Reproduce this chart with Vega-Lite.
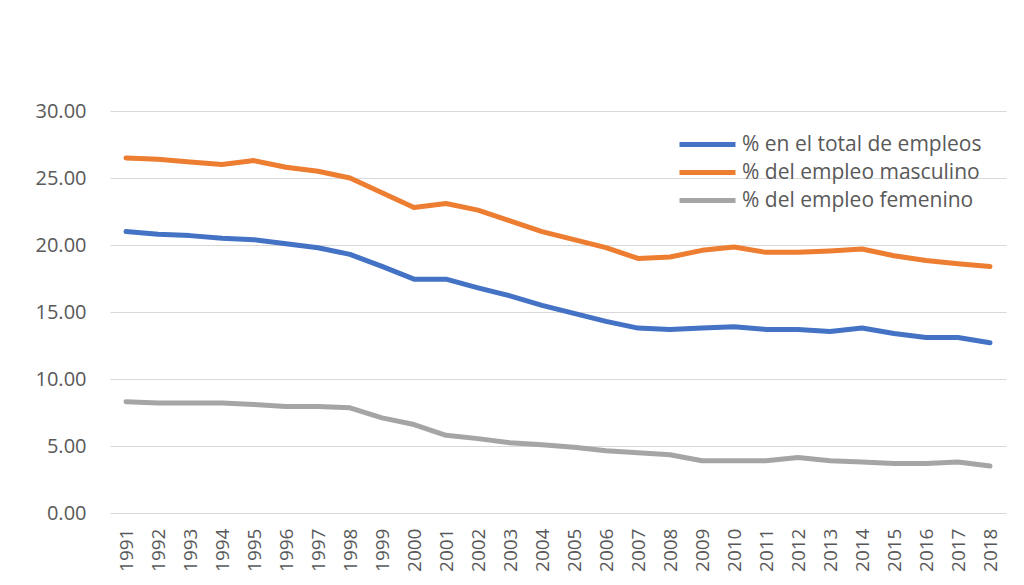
{
  "$schema": "https://vega.github.io/schema/vega-lite/v6.json",
  "autosize": "none",
  "width": 896,
  "height": 402,
  "padding": {"left": 110, "top": 111, "right": 18, "bottom": 72},
  "background": "white",
  "config": {
    "font": "Open Sans",
    "view": {"stroke": null},
    "axis": {"labelColor": "#595959", "labelFont": "Open Sans", "gridColor": "#D9D9D9", "gridWidth": 1}
  },
  "datasets": {
    "empleo": [
      {"anio": "1991", "total": 21.0, "masc": 26.5, "fem": 8.3},
      {"anio": "1992", "total": 20.8, "masc": 26.4, "fem": 8.2},
      {"anio": "1993", "total": 20.7, "masc": 26.2, "fem": 8.2},
      {"anio": "1994", "total": 20.5, "masc": 26.0, "fem": 8.2},
      {"anio": "1995", "total": 20.4, "masc": 26.3, "fem": 8.1},
      {"anio": "1996", "total": 20.1, "masc": 25.8, "fem": 7.95},
      {"anio": "1997", "total": 19.8, "masc": 25.5, "fem": 7.95},
      {"anio": "1998", "total": 19.3, "masc": 25.0, "fem": 7.85},
      {"anio": "1999", "total": 18.4, "masc": 23.9, "fem": 7.1},
      {"anio": "2000", "total": 17.45, "masc": 22.8, "fem": 6.6},
      {"anio": "2001", "total": 17.45, "masc": 23.1, "fem": 5.8},
      {"anio": "2002", "total": 16.8, "masc": 22.6, "fem": 5.55},
      {"anio": "2003", "total": 16.2, "masc": 21.8, "fem": 5.25},
      {"anio": "2004", "total": 15.5, "masc": 21.0, "fem": 5.1},
      {"anio": "2005", "total": 14.9, "masc": 20.4, "fem": 4.9},
      {"anio": "2006", "total": 14.3, "masc": 19.8, "fem": 4.65},
      {"anio": "2007", "total": 13.8, "masc": 19.0, "fem": 4.5},
      {"anio": "2008", "total": 13.7, "masc": 19.1, "fem": 4.35},
      {"anio": "2009", "total": 13.8, "masc": 19.6, "fem": 3.9},
      {"anio": "2010", "total": 13.9, "masc": 19.85, "fem": 3.9},
      {"anio": "2011", "total": 13.7, "masc": 19.45, "fem": 3.9},
      {"anio": "2012", "total": 13.7, "masc": 19.45, "fem": 4.15},
      {"anio": "2013", "total": 13.55, "masc": 19.55, "fem": 3.9},
      {"anio": "2014", "total": 13.8, "masc": 19.7, "fem": 3.8},
      {"anio": "2015", "total": 13.4, "masc": 19.2, "fem": 3.7},
      {"anio": "2016", "total": 13.1, "masc": 18.85, "fem": 3.7},
      {"anio": "2017", "total": 13.1, "masc": 18.6, "fem": 3.8},
      {"anio": "2018", "total": 12.7, "masc": 18.4, "fem": 3.5}
    ]
  },
  "data": {"name": "empleo"},
  "transform": [
    {"fold": ["total", "masc", "fem"], "as": ["clave", "valor"]},
    {"lookup": "clave", "from": {"data": {"values": [
      {"clave": "total", "serie": "% en el total de empleos"},
      {"clave": "masc", "serie": "% del empleo masculino"},
      {"clave": "fem", "serie": "% del empleo femenino"}
    ]}, "key": "clave", "fields": ["serie"]}}
  ],
  "mark": {"type": "line", "strokeWidth": 5, "strokeCap": "round", "strokeJoin": "round"},
  "encoding": {
    "x": {
      "field": "anio", "type": "ordinal", "title": null,
      "scale": {"type": "point", "padding": 0.5},
      "axis": {"labelAngle": -90, "labelFontSize": 19, "ticks": false, "domain": false, "labelPadding": 15, "grid": false}
    },
    "y": {
      "field": "valor", "type": "quantitative", "title": null,
      "scale": {"domain": [0, 30], "nice": false},
      "axis": {"values": [0, 5, 10, 15, 20, 25, 30], "format": ".2f", "labelFontSize": 20, "ticks": false, "domain": false, "labelPadding": 24}
    },
    "color": {
      "field": "serie", "type": "nominal",
      "scale": {
        "domain": ["% en el total de empleos", "% del empleo masculino", "% del empleo femenino"],
        "range": ["#4472C4", "#ED7D31", "#A5A5A5"]
      },
      "legend": {
        "title": null, "orient": "none", "legendX": 587, "legendY": 23,
        "symbolType": "M-4,0H4", "symbolSize": 196, "symbolStrokeWidth": 5,
        "labelFont": "Open Sans", "labelFontSize": 21, "labelColor": "#595959", "labelLimit": 400,
        "rowPadding": 6, "labelOffset": 24
      }
    }
  }
}
